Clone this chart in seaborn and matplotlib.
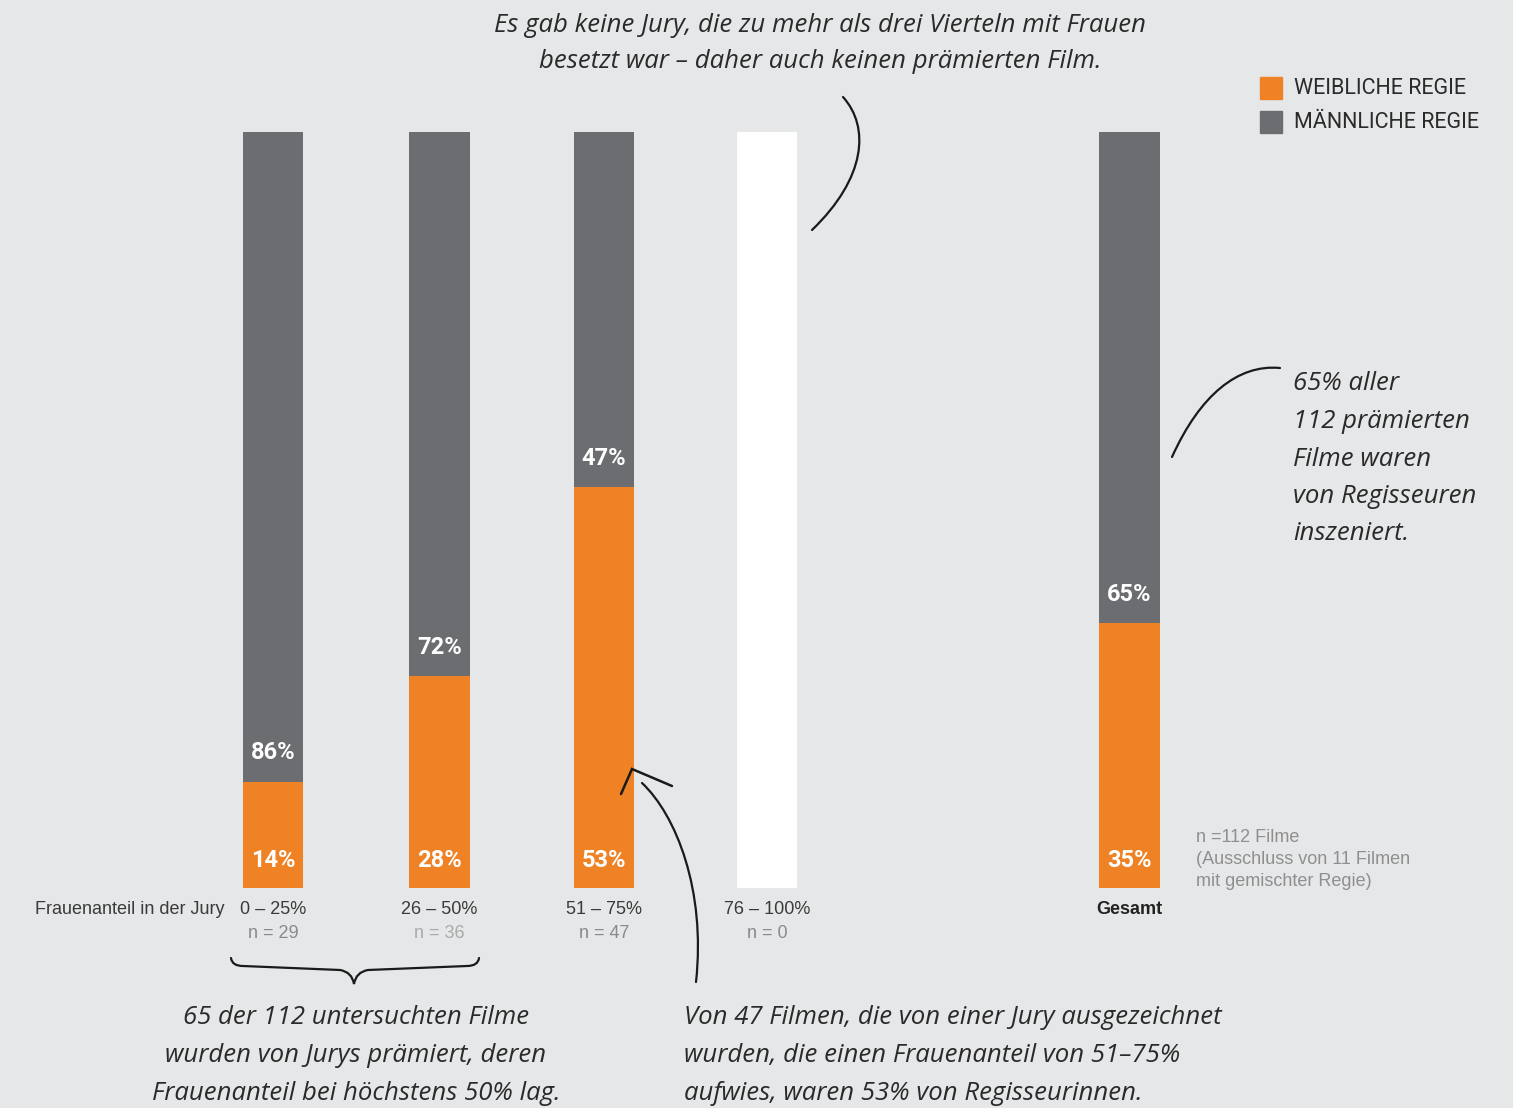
import matplotlib
matplotlib.use("Agg")
import matplotlib.pyplot as plt
from matplotlib.path import Path
from matplotlib.patches import PathPatch, Rectangle
import seaborn as sns
import pandas as pd

# --- data -------------------------------------------------------------
groups = ["0 – 25%", "26 – 50%", "51 – 75%", "76 – 100%", "Gesamt"]
n_films = ["n = 29", "n = 36", "n = 47", "n = 0", ""]
female_pct = [14, 28, 53, None, 35]
male_pct = [86, 72, 47, None, 65]
legend_labels = ["WEIBLICHE REGIE", "MÄNNLICHE REGIE"]

# --- layout / style ---------------------------------------------------
positions = [0, 1.01, 2.01, 3, 5.2]
BG = "#e6e7e8"
ORANGE = "#ee8224"
GREY = "#6c6d70"
W, H = 1513, 1108

sns.set_theme(style="white")
plt.rcParams["font.family"] = ["Liberation Sans", "DejaVu Sans"]
NARROW = ["Roboto", "Liberation Sans", "DejaVu Sans"]
HAND = ["Open Sans", "DejaVu Sans"]

fig = plt.figure(figsize=(W / 100, H / 100), dpi=100, facecolor=BG)
ax = fig.add_axes([0, (H - 888) / H, 1, (888 - 132) / H])
ax.set_facecolor(BG)
unit = 164.7
bw = 61 / unit

df = pd.DataFrame({"pos": positions, "group": groups,
                   "female": female_pct, "male": male_pct})
df["total"] = df["female"] + df["male"]
df["empty"] = [100 if pd.isna(v) else 0 for v in df["female"]]

sns.barplot(data=df, x="pos", y="total", native_scale=True, width=bw,
            color=GREY, saturation=1, ax=ax, linewidth=0)
sns.barplot(data=df, x="pos", y="empty", native_scale=True, width=bw,
            color="white", saturation=1, ax=ax, linewidth=0)
sns.barplot(data=df, x="pos", y="female", native_scale=True, width=bw,
            color=ORANGE, saturation=1, ax=ax, linewidth=0)
ax.set_xlim(-273 / unit, (W - 273) / unit)
ax.set_ylim(0, 100)
ax.axis("off")

# value labels inside the bars
for _, r in df.iterrows():
    if pd.isna(r["female"]):
        continue
    ax.annotate(f"{int(r['female'])}%", (r["pos"], 0), xytext=(0, 20),
                textcoords="offset points", ha="center", va="center",
                color="white", fontsize=17, fontweight="bold", family=NARROW)
    ax.annotate(f"{int(r['male'])}%", (r["pos"], r["female"]), xytext=(0, 21),
                textcoords="offset points", ha="center", va="center",
                color="white", fontsize=17, fontweight="bold", family=NARROW)


def fx(x):
    return x / W


def fy(y):
    return 1 - y / H


# category labels below the bars
for p, g, n in zip(positions, groups, n_films):
    xf = ax.transData.transform((p, 0))[0] / W
    if g == "Gesamt":
        fig.text(xf, fy(910), g, ha="center", va="center", fontsize=13,
                 fontweight="bold", color="#222222")
    else:
        fig.text(xf, fy(910), g, ha="center", va="center", fontsize=13,
                 color="#3a3a3a")
        ncol = "#aaaaaa" if n == "n = 36" else "#8a8a8a"
        fig.text(xf, fy(933), n, ha="center", va="center", fontsize=13,
                 color=ncol)
fig.text(fx(224), fy(910), "Frauenanteil in der Jury", ha="right",
         va="center", fontsize=13, color="#3a3a3a")

# sample note
for i, line in enumerate(["n =112 Filme", "(Ausschluss von 11 Filmen",
                          "mit gemischter Regie)"]):
    fig.text(fx(1196), fy(838 + i * 21.5), line, ha="left", va="center",
             fontsize=13, color="#8f8f8f")

# legend
for i, (lab, col) in enumerate(zip(legend_labels, [ORANGE, GREY])):
    yc = 88 + i * 34
    fig.patches.append(Rectangle((fx(1260), fy(yc + 11)), 22 / W, 22 / H,
                                 transform=fig.transFigure, color=col))
    fig.text(fx(1294), fy(yc + 1), lab, ha="left", va="center", fontsize=15.5,
             color="#2a2a2a", family=NARROW)

# handwritten-style notes
hand = dict(family=HAND, style="italic", fontsize=18.5, color="#2a2a2a",
            va="center")
for i, line in enumerate(["Es gab keine Jury, die zu mehr als drei Vierteln mit Frauen",
                          "besetzt war – daher auch keinen prämierten Film."]):
    fig.text(fx(820), fy(25 + i * 37), line, ha="center", **hand)
for i, line in enumerate(["65% aller", "112 prämierten", "Filme waren",
                          "von Regisseuren", "inszeniert."]):
    fig.text(fx(1293), fy(384 + i * 37.5), line, ha="left", **hand)
for i, line in enumerate(["65 der 112 untersuchten Filme",
                          "wurden von Jurys prämiert, deren",
                          "Frauenanteil bei höchstens 50% lag."]):
    fig.text(fx(356), fy(1018 + i * 37.5), line, ha="center", **hand)
for i, line in enumerate(["Von 47 Filmen, die von einer Jury ausgezeichnet",
                          "wurden, die einen Frauenanteil von 51–75%",
                          "aufwies, waren 53% von Regisseurinnen."]):
    fig.text(fx(684), fy(1018 + i * 37.5), line, ha="left", **hand)


# connector strokes
def stroke(verts, codes, lw=1.6):
    pts = [(fx(x), fy(y)) for x, y in verts]
    fig.patches.append(PathPatch(Path(pts, codes), transform=fig.transFigure,
                                 fill=False, lw=lw, color="#1a1a1a",
                                 capstyle="round", joinstyle="miter"))


C4, M, L, C3 = Path.CURVE4, Path.MOVETO, Path.LINETO, Path.CURVE3
stroke([(843, 97), (870, 127), (866, 178), (812, 230)], [M, C4, C4, C4])
stroke([(1172, 457), (1200, 395), (1238, 364), (1280, 368)], [M, C4, C4, C4])
stroke([(642, 783), (676, 815), (706, 890), (696, 982)], [M, C4, C4, C4])
stroke([(621, 794), (632, 769), (672, 786)], [M, L, L], lw=1.8)
stroke([(231, 958), (232, 966), (243, 966), (340, 970), (352, 972),
        (354, 984), (356, 972), (368, 970), (467, 966), (478, 966),
        (479, 958)],
       [M, C3, C3, L, C3, C3, C3, C3, L, C3, C3], lw=1.6)

fig.savefig("out.png", dpi=100, facecolor=BG)
